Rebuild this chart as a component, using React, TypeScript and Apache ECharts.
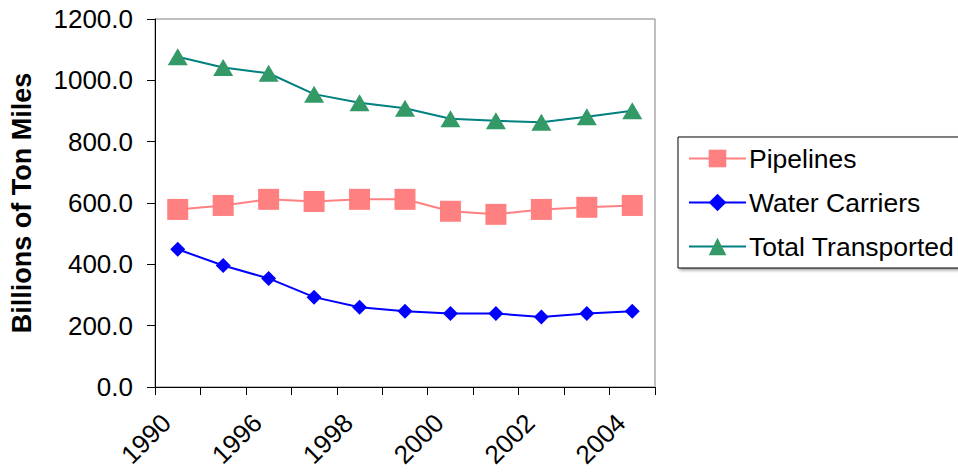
import React, { useEffect, useRef } from "react";
import * as echarts from "echarts";

const years = ["1990", "1995", "1996", "1997", "1998", "1999", "2000", "2001", "2002", "2003", "2004"];
const pipelines = [579, 592, 612, 605, 612, 612, 573, 563, 579, 586, 592];
const waterCarriers = [449, 396, 354, 293, 260, 247, 240, 240, 228, 240, 247];
const totalTransported = [1077, 1042, 1023, 955, 927, 909, 875, 868, 863, 881, 901];
const yTicks = { min: 0, max: 1200, interval: 200 };

const FONT = "Liberation Sans, Arial, sans-serif";

export default function App() {
  const ref = useRef<HTMLDivElement>(null);
  useEffect(() => {
    document.body.style.margin = "0";
    if (!ref.current) return;
    const chart = echarts.init(ref.current, undefined, { renderer: "svg" });
    chart.setOption({
      animation: false,
      backgroundColor: "#ffffff",
      textStyle: { fontFamily: FONT },
      grid: {
        left: 155,
        right: 303,
        top: 19,
        bottom: 85,
        containLabel: false,
        outerBoundsMode: "none",
        show: true,
        borderColor: "#808080",
        borderWidth: 1,
      },
      legend: {
        orient: "vertical",
        left: 678,
        top: 137,
        itemWidth: 57,
        itemHeight: 22,
        itemGap: 17,
        padding: [8, 12, 8, 10],
        borderColor: "#000000",
        borderWidth: 1,
        backgroundColor: "#ffffff",
        shadowColor: "rgba(0,0,0,0.35)",
        shadowBlur: 3,
        shadowOffsetX: 2,
        shadowOffsetY: 2,
        textStyle: { fontSize: 26.5, color: "#000000", fontFamily: FONT, padding: [0, 0, 0, -2] },
        data: ["Pipelines", "Water Carriers", "Total Transported"],
      },
      xAxis: {
        type: "category",
        data: years,
        boundaryGap: true,
        axisLine: { lineStyle: { color: "#000000", width: 1 } },
        axisTick: { show: true, interval: 0, length: 8, inside: false, lineStyle: { color: "#000000" } },
        axisLabel: {
          interval: 1,
          rotate: 45,
          fontSize: 26,
          color: "#000000",
          fontFamily: FONT,
          margin: 20,
          padding: [0, 16, 0, 0],
        },
        splitLine: { show: false },
      },
      yAxis: {
        type: "value",
        min: yTicks.min,
        max: yTicks.max,
        interval: yTicks.interval,
        name: "Billions of Ton Miles",
        nameLocation: "middle",
        nameGap: 120,
        nameTextStyle: { fontSize: 27, fontWeight: "bold", color: "#000000", fontFamily: FONT },
        axisLine: { show: true, lineStyle: { color: "#000000", width: 1 } },
        axisTick: { show: true, length: 8, lineStyle: { color: "#000000" } },
        axisLabel: {
          fontSize: 26,
          color: "#000000",
          fontFamily: FONT,
          margin: 22,
          formatter: (v: number) => v.toFixed(1),
        },
        splitLine: { show: false },
      },
      series: [
        {
          name: "Pipelines",
          type: "line",
          data: pipelines,
          symbol: "rect",
          symbolSize: 21,
          lineStyle: { color: "#FF8080", width: 2 },
          itemStyle: { color: "#FF8080" },
          z: 2,
        },
        {
          name: "Water Carriers",
          type: "line",
          data: waterCarriers,
          symbol: "diamond",
          symbolSize: 15,
          lineStyle: { color: "#0000FF", width: 2 },
          itemStyle: { color: "#0000FF" },
          z: 3,
        },
        {
          name: "Total Transported",
          type: "line",
          data: totalTransported,
          symbol: "triangle",
          symbolSize: [20, 17],
          lineStyle: { color: "#008080", width: 2 },
          itemStyle: { color: "#339966" },
          z: 4,
        },
      ],
    });
    return () => chart.dispose();
  }, []);
  return <div ref={ref} style={{ width: 958, height: 472 }} />;
}
